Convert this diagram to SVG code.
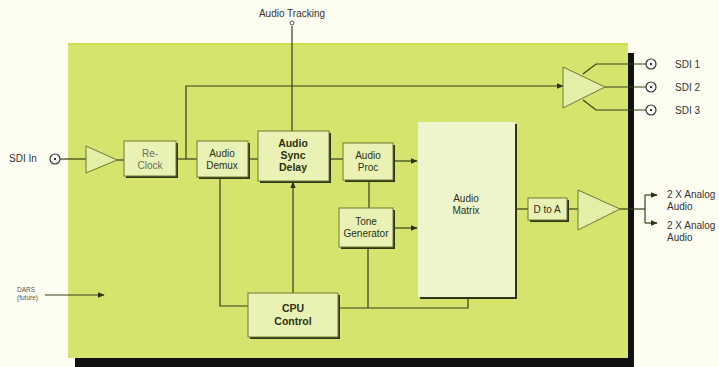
<svg xmlns="http://www.w3.org/2000/svg" width="719" height="367" viewBox="0 0 719 367">
<defs>
<style>
text{font-family:"Liberation Sans",Arial,sans-serif;fill:#2b3215}
.lbl{font-size:10px;fill:#333}
.bx{fill:#e9f1b4;stroke:#6c7a2e;stroke-width:1}
.sh{fill:#2e3516}
.bt{font-size:10px;text-anchor:middle}
.bb{font-size:10.5px;text-anchor:middle;font-weight:bold}
.ln{fill:none;stroke:#34401a;stroke-width:1.2}
.tri{fill:#e3eea6;stroke:#6c7a2e;stroke-width:1}
.con{fill:#fff;stroke:#333;stroke-width:1.2}
</style>
<marker id="ar" viewBox="0 0 10 10" refX="9" refY="5" markerWidth="7" markerHeight="7" orient="auto" markerUnits="userSpaceOnUse">
<path d="M0,1 L10,5 L0,9 z" fill="#2b3215"/>
</marker>
<linearGradient id="bg" x1="0" y1="0" x2="1" y2="1">
<stop offset="0" stop-color="#f1f7cf"/>
<stop offset="1" stop-color="#dde9a0"/>
</linearGradient>
</defs>
<rect width="719" height="367" fill="#fdfdf2"/>
<g id="panel">
<rect x="627" y="53" width="7" height="314" fill="#111"/>
<rect x="75" y="357" width="559" height="10" fill="#111"/>
<rect x="68" y="43" width="560" height="315" fill="#d6e46e"/>
<rect x="68" y="43" width="560" height="2" fill="#cbe04a"/>
</g>
<g id="connectors">
<path class="ln" d="M60,159 H86"/>
<path class="ln" d="M117,160 H124"/>
<path class="ln" d="M176,159 H197"/>
<path class="ln" d="M186,159 V86 H563" marker-end="url(#ar)"/>
<path class="ln" d="M248,159 H258"/>
<path class="ln" d="M292,26 V131"/>
<path class="ln" d="M329,159 H343"/>
<path class="ln" d="M393,161 H417" marker-end="url(#ar)"/>
<path class="ln" d="M369,180 V208"/>
<path class="ln" d="M393,228 H417" marker-end="url(#ar)"/>
<path class="ln" d="M220,177 V306 H248"/>
<path class="ln" d="M293,293 V182" marker-end="url(#ar)"/>
<path class="ln" d="M338,308 H468 V297"/>
<path class="ln" d="M368,247 V308"/>
<path class="ln" d="M45,295 H104" marker-end="url(#ar)"/>
<path class="ln" d="M515,209 H528"/>
<path class="ln" d="M567,209 H578"/>
<path class="ln" d="M620,209 H645"/>
<path class="ln" d="M645,195 V223"/>
<path class="ln" d="M645,195 H657" marker-end="url(#ar)"/>
<path class="ln" d="M645,223 H657" marker-end="url(#ar)"/>
<path class="ln" d="M583,74 L596,64 H646"/>
<path class="ln" d="M605,87 H646"/>
<path class="ln" d="M583,100 L596,110 H646"/>
</g>
<g id="sdi-in">
<circle class="con" cx="55" cy="159" r="5"/>
<circle cx="55" cy="159" r="1.2" fill="#333"/>
<text class="lbl" x="9" y="162">SDI In</text>
</g>
<g id="in-amp">
<polygon class="tri" points="86,146 117,160 86,173"/>
</g>
<g id="reclock">
<rect class="sh" x="126" y="143" width="52" height="35"/>
<rect class="bx" x="124" y="141" width="52" height="35" fill="url(#bg)"/>
<text class="bt" x="150" y="157" fill="#6a6f5a" style="fill:#6a6f5a">Re-</text>
<text class="bt" x="150" y="169" style="fill:#6a6f5a">Clock</text>
</g>
<g id="demux">
<rect class="sh" x="199" y="143" width="51" height="36"/>
<rect class="bx" x="197" y="141" width="51" height="36"/>
<text class="bt" x="222" y="157">Audio</text>
<text class="bt" x="222" y="169">Demux</text>
</g>
<g id="sync-delay">
<rect class="sh" x="260" y="133" width="71" height="50"/>
<rect class="bx" x="258" y="131" width="71" height="50"/>
<text class="bb" x="293" y="147">Audio</text>
<text class="bb" x="293" y="159">Sync</text>
<text class="bb" x="293" y="171">Delay</text>
</g>
<g id="audio-tracking">
<circle cx="292" cy="23" r="2" fill="#fff" stroke="#555" stroke-width="1"/>
<text class="lbl" x="292" y="17" text-anchor="middle">Audio Tracking</text>
</g>
<g id="audio-proc">
<rect class="sh" x="345" y="145" width="50" height="37"/>
<rect class="bx" x="343" y="143" width="50" height="37"/>
<text class="bt" x="368" y="159">Audio</text>
<text class="bt" x="368" y="171">Proc</text>
</g>
<g id="tone-gen">
<rect class="sh" x="341" y="210" width="54" height="39"/>
<rect class="bx" x="339" y="208" width="54" height="39"/>
<text class="bt" x="366" y="225">Tone</text>
<text class="bt" x="366" y="237">Generator</text>
</g>
<g id="matrix">
<rect class="sh" x="420" y="124" width="97" height="175"/>
<rect x="418" y="122" width="97" height="175" fill="#eef5cd"/>
<text class="bt" x="466" y="202">Audio</text>
<text class="bt" x="466" y="214">Matrix</text>
</g>
<g id="cpu">
<rect class="sh" x="250" y="295" width="90" height="44"/>
<rect class="bx" x="248" y="293" width="90" height="44"/>
<text class="bb" x="293" y="312">CPU</text>
<text class="bb" x="293" y="325">Control</text>
</g>
<g id="dtoa">
<rect class="sh" x="530" y="200" width="39" height="22"/>
<rect class="bx" x="528" y="198" width="39" height="22"/>
<text class="bt" x="547" y="213">D to A</text>
</g>
<g id="out-amp">
<polygon class="tri" points="578,190 620,209 578,230"/>
</g>
<g id="sdi-amp">
<polygon class="tri" points="563,67 605,87 563,108"/>
</g>
<g id="dars">
<text x="17" y="292" style="font-size:6.5px;fill:#555">DARS</text>
<text x="17" y="300" style="font-size:6.5px;fill:#555">(future)</text>
</g>
<g id="sdi-out">
<circle class="con" cx="651" cy="64" r="5"/><circle cx="651" cy="64" r="1.2" fill="#333"/>
<circle class="con" cx="651" cy="87" r="5"/><circle cx="651" cy="87" r="1.2" fill="#333"/>
<circle class="con" cx="651" cy="110" r="5"/><circle cx="651" cy="110" r="1.2" fill="#333"/>
<text class="lbl" x="675" y="68">SDI 1</text>
<text class="lbl" x="675" y="91">SDI 2</text>
<text class="lbl" x="675" y="114">SDI 3</text>
</g>
<g id="analog-out">
<text class="lbl" x="667" y="198">2 X Analog</text>
<text class="lbl" x="667" y="210">Audio</text>
<text class="lbl" x="667" y="229">2 X Analog</text>
<text class="lbl" x="667" y="241">Audio</text>
</g>
</svg>
